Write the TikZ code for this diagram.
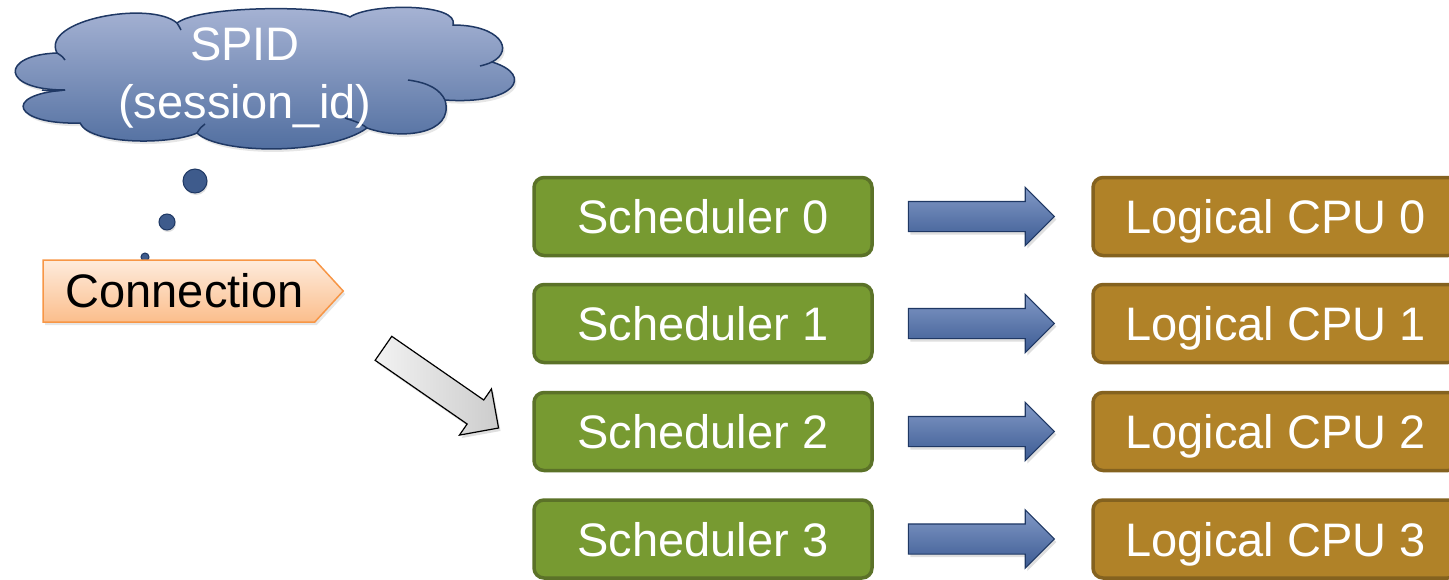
\documentclass[tikz,border=0pt]{standalone}
\usepackage{fontspec}
\setmainfont{Liberation Sans}
\usetikzlibrary{shapes.symbols,shapes.arrows,shadows}
\definecolor{schedfill}{HTML}{779A31}
\definecolor{schedline}{HTML}{5B7228}
\definecolor{cpufill}{HTML}{B08228}
\definecolor{cpuline}{HTML}{84621F}
\definecolor{navy}{HTML}{1F3864}
\definecolor{cloudtop}{HTML}{AAB6D6}
\definecolor{cloudbot}{HTML}{4E6C9E}
\definecolor{arrtop}{HTML}{8299C6}
\definecolor{arrbot}{HTML}{3C5B93}
\definecolor{conntop}{HTML}{FEEBDC}
\definecolor{connbot}{HTML}{FBBE8C}
\definecolor{connline}{HTML}{F79646}
\definecolor{dotfill}{HTML}{3E5B8C}
\tikzset{
  big/.style={font=\fontsize{47}{58}\selectfont},
  schedbox/.style={big, rounded corners=10pt, line width=3.5pt, draw=schedline, fill=schedfill,
    text=white, minimum width=338pt, minimum height=78pt, inner sep=0pt,
    text height=34pt, text depth=0pt},
  cpubox/.style={big, rounded corners=10pt, line width=3.5pt, draw=cpuline, fill=cpufill,
    text=white, minimum width=365pt, minimum height=78pt, inner sep=0pt,
    text height=34pt, text depth=0pt},
  bluearr/.style={single arrow, single arrow head extend=14pt, minimum height=146pt,
    inner xsep=0pt, inner ysep=14.5pt, draw=navy, line width=1.2pt,
    top color=arrtop, bottom color=arrbot, shading angle=0,
    drop shadow={opacity=0.25, shadow xshift=2pt, shadow yshift=-3pt}},
  grayarr/.style={single arrow, single arrow head extend=13.5pt, minimum height=140pt,
    inner xsep=0pt, inner ysep=14pt, draw=black, line width=1.2pt,
    left color=gray!10, right color=gray!40,
    drop shadow={opacity=0.25, shadow xshift=2pt, shadow yshift=-3pt}},
  thoughtdot/.style={circle, draw=navy, line width=1pt, fill=dotfill, inner sep=0pt,
    drop shadow={opacity=0.25, shadow xshift=1pt, shadow yshift=-2pt}},
  cloudstyle/.style={draw=navy, line width=1.5pt, top color=cloudtop, bottom color=cloudbot,
    drop shadow={opacity=0.2, shadow xshift=2pt, shadow yshift=-3pt}},
}
\begin{document}
\begin{tikzpicture}[x=1pt,y=-1pt]
\useasboundingbox (0,0) rectangle (1449,579);
% cloud
\path[cloudstyle] (57,53) .. controls (40,20) and (150,0) .. (177,23)
  .. controls (200,5) and (330,5) .. (350,17)
  .. controls (370,3) and (460,3) .. (453,25)
  .. controls (500,25) and (515,50) .. (492,62)
  .. controls (535,75) and (515,105) .. (445,100)
  .. controls (455,135) and (400,140) .. (367,128)
  .. controls (330,155) and (220,155) .. (197,133)
  .. controls (170,145) and (90,145) .. (80,123)
  .. controls (15,125) and (0,95) .. (65,90)
  .. controls (0,90) and (0,55) .. (57,53) -- cycle;
\draw[navy, line width=1.5pt] (57,53) .. controls (62,56) and (64,58) .. (65,60);
\draw[navy, line width=1.5pt] (65,90) .. controls (55,91) and (48,91) .. (42,90);
\draw[navy, line width=1.5pt] (177,23) .. controls (179,26) and (180,28) .. (181,30);
\draw[navy, line width=1.5pt] (445,100) .. controls (440,90) and (430,83) .. (408,80);
\draw[navy, line width=1.5pt] (492,62) .. controls (488,64) and (484,65) .. (480,66);
\draw[navy, line width=1.5pt] (367,128) .. controls (360,122) and (350,120) .. (345,118);
\draw[navy, line width=1.5pt] (197,133) .. controls (200,128) and (202,126) .. (205,124);
\node[big, text=white, align=center] (spid) at (245,78) {SPID\\(session\_id)};
% thought dots
\node[thoughtdot, minimum size=24pt] (d1) at (195,181) {};
\node[thoughtdot, minimum size=16pt] (d2) at (167,222) {};
\node[thoughtdot, minimum size=8pt] (d3) at (145,257) {};
% connection
\node[signal, signal to=east, signal pointer angle=95, big, text=black,
      minimum width=300pt, minimum height=62pt, inner sep=0pt, draw=connline, line width=1.5pt,
      top color=conntop, bottom color=connbot,
      drop shadow={opacity=0.2, shadow xshift=2pt, shadow yshift=-3pt}] (conn) at (179,291) {\hspace*{11pt}Connection};
% gray arrow
\node[grayarr, rotate=-34.7] (ga) at (435,384) {};
% schedulers and cpus
\foreach \i/\y in {0/216.5,1/323.5,2/431.5,3/539}{
  \node[schedbox] (s\i) at (703,\y) {Scheduler \i};
  \node[cpubox] (c\i) at (1275.5,\y) {Logical CPU \i};
  \path (s\i.east) -- node[bluearr, pos=0.46] (a\i) {} (c\i.west);
}
\end{tikzpicture}
\end{document}
